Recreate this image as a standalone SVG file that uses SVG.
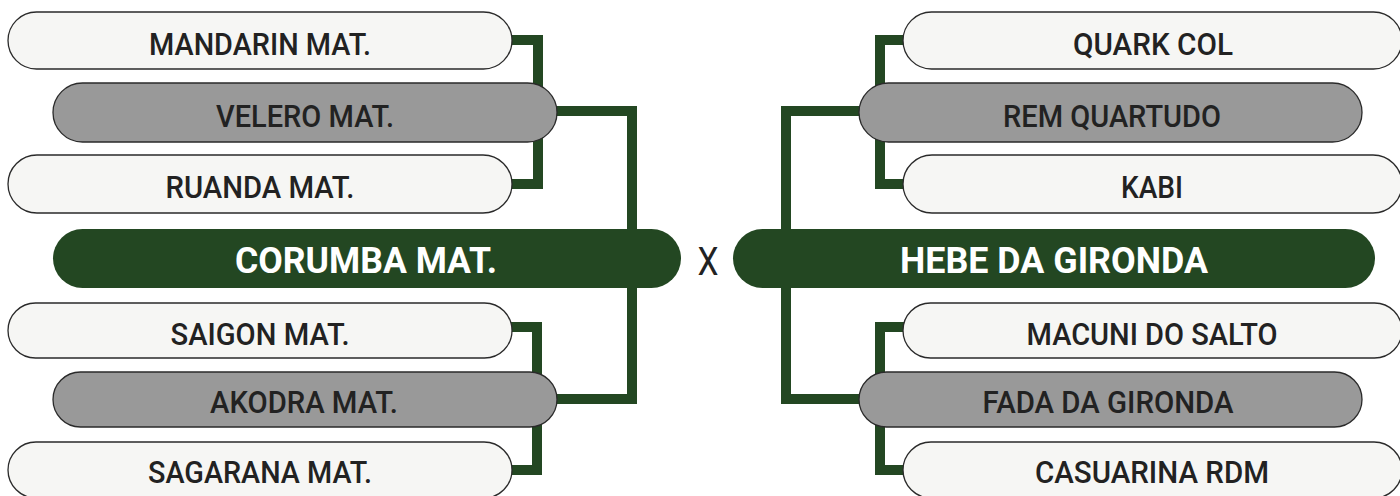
<svg xmlns="http://www.w3.org/2000/svg" width="1400" height="496" viewBox="0 0 1400 496">
<style>
.w{fill:#f6f6f4;stroke:#2a2a2a;stroke-width:1.3}
.g{fill:#999999;stroke:#2a2a2a;stroke-width:1.3}
.f{fill:#234722}
.t{font-family:Roboto,"Liberation Sans",sans-serif;font-weight:500;font-size:31px;fill:#222;text-anchor:middle}
.tb{font-family:Roboto,"Liberation Sans",sans-serif;font-weight:700;font-size:37px;fill:#ffffff;text-anchor:middle}
.x{font-family:Roboto,"Liberation Sans",sans-serif;font-weight:400;font-size:38px;fill:#222;text-anchor:middle}
.c{fill:none;stroke:#234722;stroke-width:10;stroke-linejoin:miter}
</style>
<rect width="1400" height="496" fill="#ffffff"/>
<g id="connectors">
<path class="c" d="M490 40H538V184H490"/>
<path class="c" d="M540 111H632V399H540"/>
<path class="c" d="M490 327H537V470H490"/>
<path class="c" d="M925 40H880V184H925"/>
<path class="c" d="M880 111H786V399H880"/>
<path class="c" d="M925 327H880V470H925"/>
</g>
<g id="mandarin"><rect class="w" x="8" y="12" width="504" height="57" rx="28.5"/><text class="t" x="260" y="55" textLength="222" lengthAdjust="spacingAndGlyphs">MANDARIN MAT.</text></g>
<g id="velero"><rect class="g" x="53" y="83" width="504" height="59" rx="29.5"/><text class="t" x="305" y="127" textLength="178" lengthAdjust="spacingAndGlyphs">VELERO MAT.</text></g>
<g id="ruanda"><rect class="w" x="8" y="155" width="504" height="58" rx="29"/><text class="t" x="260" y="198" textLength="189" lengthAdjust="spacingAndGlyphs">RUANDA MAT.</text></g>
<g id="corumba"><rect class="f" x="53" y="229" width="628" height="59" rx="29.5"/><text class="tb" x="366" y="273" textLength="262" lengthAdjust="spacingAndGlyphs">CORUMBA MAT.</text></g>
<g id="saigon"><rect class="w" x="8" y="303" width="504" height="55" rx="27.5"/><text class="t" x="260" y="345" textLength="179" lengthAdjust="spacingAndGlyphs">SAIGON MAT.</text></g>
<g id="akodra"><rect class="g" x="53" y="372" width="504" height="55" rx="27.5"/><text class="t" x="304" y="413" textLength="188" lengthAdjust="spacingAndGlyphs">AKODRA MAT.</text></g>
<g id="sagarana"><rect class="w" x="8" y="442" width="504" height="56" rx="28"/><text class="t" x="260" y="483" textLength="224" lengthAdjust="spacingAndGlyphs">SAGARANA MAT.</text></g>
<g id="versus"><text class="x" x="708" y="275" textLength="21" lengthAdjust="spacingAndGlyphs">X</text></g>
<g id="quark"><rect class="w" x="903" y="12" width="499" height="57" rx="28.5"/><text class="t" x="1153" y="55" textLength="160" lengthAdjust="spacingAndGlyphs">QUARK COL</text></g>
<g id="rem"><rect class="g" x="859" y="83" width="503" height="59" rx="29.5"/><text class="t" x="1112" y="127" textLength="218" lengthAdjust="spacingAndGlyphs">REM QUARTUDO</text></g>
<g id="kabi"><rect class="w" x="903" y="155" width="499" height="58" rx="29"/><text class="t" x="1152" y="198" textLength="62" lengthAdjust="spacingAndGlyphs">KABI</text></g>
<g id="hebe"><rect class="f" x="733" y="229" width="642" height="59" rx="29.5"/><text class="tb" x="1054" y="273" textLength="308" lengthAdjust="spacingAndGlyphs">HEBE DA GIRONDA</text></g>
<g id="macuni"><rect class="w" x="903" y="303" width="499" height="55" rx="27.5"/><text class="t" x="1152" y="345" textLength="251" lengthAdjust="spacingAndGlyphs">MACUNI DO SALTO</text></g>
<g id="fada"><rect class="g" x="859" y="372" width="503" height="55" rx="27.5"/><text class="t" x="1108" y="413" textLength="251" lengthAdjust="spacingAndGlyphs">FADA DA GIRONDA</text></g>
<g id="casuarina"><rect class="w" x="903" y="442" width="499" height="56" rx="28"/><text class="t" x="1152" y="483" textLength="234" lengthAdjust="spacingAndGlyphs">CASUARINA RDM</text></g>
</svg>
